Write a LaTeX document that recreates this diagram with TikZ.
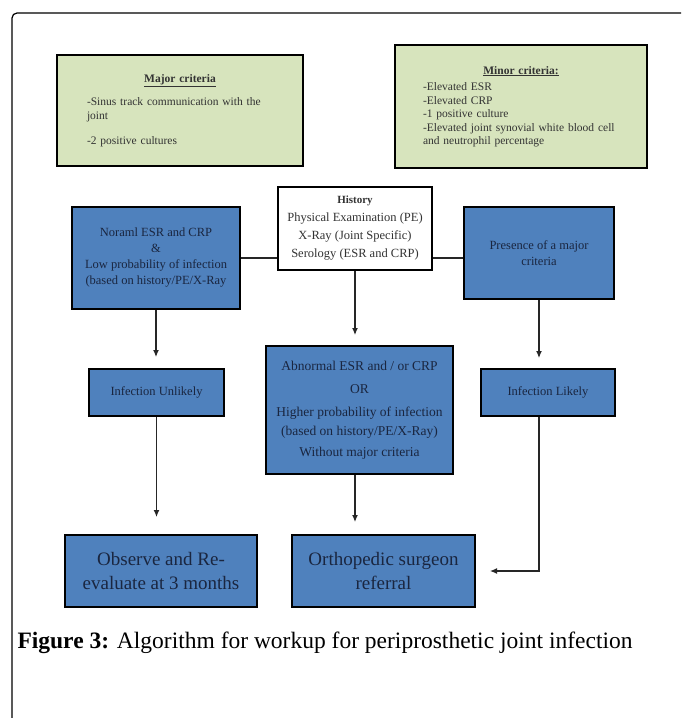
\documentclass[tikz,border=0pt]{standalone}
\usepackage{fontspec}
\setmainfont{Liberation Serif}
\usetikzlibrary{arrows.meta,calc,positioning,shadows}
\definecolor{boxblue}{HTML}{4F81BD}
\definecolor{boxgreen}{HTML}{D7E4BD}
\definecolor{boxtext}{HTML}{1A2640}
\definecolor{greytext}{HTML}{333333}

\begin{document}
\begin{tikzpicture}[x=1pt,y=-1pt,
  box/.style={draw=black,line width=2pt,inner sep=2pt,align=center,
    drop shadow={shadow xshift=1pt,shadow yshift=-1pt,opacity=.3,fill=gray}},
  bluebox/.style={box,fill=boxblue,text=boxtext,font=\fontsize{12.5}{16}\selectfont},
  greenbox/.style={box,fill=boxgreen,text=greytext,align=left,font=\fontsize{11.5}{13.5}\selectfont},
  link/.style={line width=1.2pt,draw=black!85},
  arr/.style={link,-{Latex[length=7pt,width=6pt]}}]
                \useasboundingbox (0,0) rectangle (681,718);
                \draw[line width=1.2pt](12,718)--(12,18) arc[start angle=180,end angle=90,radius=5pt]--(681,13);
                \node[greenbox,minimum width=246pt,minimum height=111pt,text width=186pt] (major) at (180,110.5)
                    {\makebox[186pt][c]{\underline{\textbf{Major criteria}}}\\[10pt]
                     -Sinus track communication with the\\ joint\\[12pt] -2 positive cultures};
                \node[greenbox,minimum width=252pt,minimum height=123pt,text width=196pt] (minor) at (521,106.5)
                    {\makebox[196pt][c]{\underline{\textbf{Minor criteria:}}}\\[3pt]
                     -Elevated ESR\\ -Elevated CRP\\ -1 positive culture\\
                     -Elevated joint synovial white blood cell\\ and neutrophil percentage};
                \node[box,fill=white,text=greytext,minimum width=154pt,minimum height=83pt,font=\fontsize{12.5}{18}\selectfont] (history) at (355,228.5)
                    {{\fontsize{11}{18}\selectfont\bfseries History}\\ Physical Examination (PE)\\ X-Ray (Joint Specific)\\ Serology (ESR and CRP)};
                \node[bluebox,minimum width=168pt,minimum height=102pt] (normal) at (156,258)
                    {Noraml ESR and CRP\\ \&\\ Low probability of infection\\ (based on history/PE/X-Ray};
                \node[bluebox,minimum width=150pt,minimum height=92pt] (presence) at (539,253)
                    {Presence of a major\\ criteria};
                \node[bluebox,minimum width=135pt,minimum height=47pt] (unlikely) at (156.5,392.5) {Infection Unlikely};
                \node[bluebox,minimum width=134pt,minimum height=47pt] (likely) at (548,392.5) {Infection Likely};
                \node[bluebox,minimum width=187pt,minimum height=128pt,font=\fontsize{13.5}{19}\selectfont] (abnormal) at (359.5,410)
                    {Abnormal ESR and / or CRP\\[4pt] OR\\[4pt] Higher probability of infection\\ (based on history/PE/X-Ray)\\[2pt] Without major criteria};
                \node[bluebox,minimum width=192pt,minimum height=72pt,font=\fontsize{19}{24}\selectfont] (observe) at (161,571)
                    {Observe and Re-\\ evaluate at 3 months};
                \node[bluebox,minimum width=183pt,minimum height=72pt,font=\fontsize{19}{24}\selectfont] (ortho) at (383.5,571)
                    {Orthopedic surgeon\\ referral};
                \draw[link](normal.east)--(normal.east -| history.west);
                \draw[link](history.east |- normal.east)--(presence.west |- normal.east);
                \draw[arr,shorten >=11pt](normal.south)--(normal.south |- unlikely.north);
                \draw[arr,shorten >=10pt](history.south)--(history.south |- abnormal.north);
                \draw[arr,shorten >=10pt](presence.south)--(presence.south |- likely.north);
                \draw[arr,shorten >=17pt](unlikely.south)--(unlikely.south |- observe.north);
                \draw[arr,shorten >=12pt](history.south |- abnormal.south)--(history.south |- ortho.north);
                \draw[arr,shorten >=14pt](presence.south |- likely.south)--(presence.south |- ortho.east)--(ortho.east);
                \node[anchor=west,font=\fontsize{23.5}{28}\selectfont] (caption) at (14,643)
                    {\textbf{Figure 3:} Algorithm for workup for periprosthetic joint infection};
\end{tikzpicture}
\end{document}
